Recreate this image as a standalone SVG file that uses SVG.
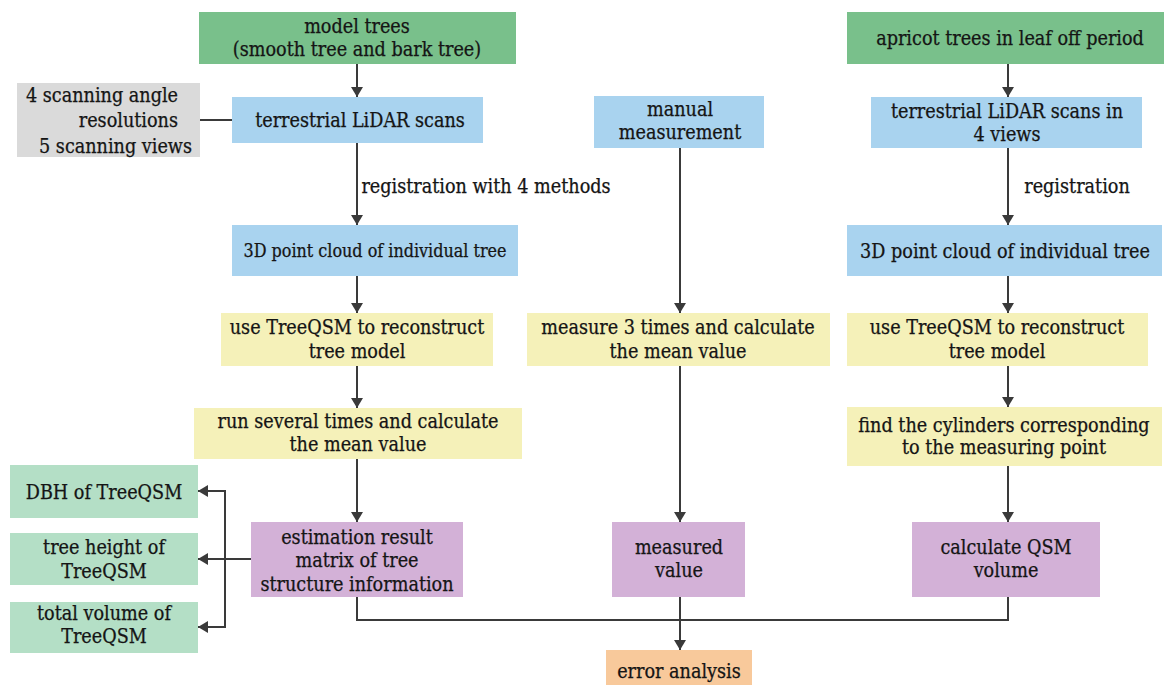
<svg xmlns="http://www.w3.org/2000/svg" width="1164" height="685" viewBox="0 0 1164 685">
<defs>
<marker id="ah" viewBox="0 0 10 12" refX="10" refY="6" markerWidth="10" markerHeight="12" markerUnits="userSpaceOnUse" orient="auto">
<path d="M0,0 L10,6 L0,12 Z" fill="#3a3a3a"/>
</marker>
</defs>
<style>
text{font-family:"DejaVu Serif Condensed","DejaVu Serif","Liberation Serif",serif;font-size:19.6px;fill:#151515;stroke:#151515;stroke-width:0.25;text-anchor:middle}
.sm{font-size:17.8px}
.g1{fill:#79c08b}
.bl{fill:#a9d3ef}
.ye{fill:#f5f1b9}
.pu{fill:#d3b1d7}
.g2{fill:#b4dfc6}
.gr{fill:#dadada}
.or{fill:#f8c99b}
.c{stroke:#3a3a3a;stroke-width:2;fill:none}
.a{marker-end:url(#ah)}
</style>
<rect width="1164" height="685" fill="#ffffff"/>
<g id="n_model"><rect class="g1" x="199" y="12" width="317" height="52"/><text x="357" y="33">model trees</text><text x="357" y="56">(smooth tree and bark tree)</text></g>
<g id="n_apricot"><rect class="g1" x="847" y="12" width="317" height="52"/><text x="1010" y="45">apricot trees in leaf off period</text></g>
<g id="n_gray"><rect class="gr" x="17" y="83" width="183" height="74"/><text x="178" y="102" style="text-anchor:end">4 scanning angle</text><text x="178" y="127" style="text-anchor:end">resolutions</text><text x="192" y="153" style="text-anchor:end">5 scanning views</text></g>
<g id="n_tls1"><rect class="bl" x="232" y="97" width="251" height="46"/><text x="360" y="127">terrestrial LiDAR scans</text></g>
<g id="n_manual"><rect class="bl" x="594" y="96" width="170" height="52"/><text x="680" y="116">manual</text><text x="680" y="139">measurement</text></g>
<g id="n_tls2"><rect class="bl" x="871" y="97" width="271" height="51"/><text x="1007" y="118">terrestrial LiDAR scans in</text><text x="1007" y="141">4 views</text></g>
<g id="n_pc1"><rect class="bl" x="232" y="225" width="286" height="51"/><text class="sm" x="375" y="257">3D point cloud of individual tree</text></g>
<g id="n_pc2"><rect class="bl" x="847" y="225" width="315" height="51"/><text x="1005" y="258">3D point cloud of individual tree</text></g>
<g id="n_qsm1"><rect class="ye" x="221" y="313" width="272" height="53"/><text x="357" y="334">use TreeQSM to reconstruct</text><text x="357" y="358">tree model</text></g>
<g id="n_meas3"><rect class="ye" x="527" y="313" width="303" height="53"/><text x="678" y="334">measure 3 times and calculate</text><text x="678" y="358">the mean value</text></g>
<g id="n_qsm2"><rect class="ye" x="847" y="313" width="301" height="53"/><text x="997" y="334">use TreeQSM to reconstruct</text><text x="997" y="358">tree model</text></g>
<g id="n_run"><rect class="ye" x="194" y="408" width="328" height="51"/><text x="358" y="428">run several times and calculate</text><text x="358" y="451">the mean value</text></g>
<g id="n_cyl"><rect class="ye" x="847" y="407" width="315" height="59"/><text x="1004" y="432">find the cylinders corresponding</text><text x="1004" y="454">to the measuring point</text></g>
<g id="n_est"><rect class="pu" x="251" y="522" width="212" height="75"/><text x="357" y="544">estimation result</text><text x="357" y="567">matrix of tree</text><text x="357" y="591">structure information</text></g>
<g id="n_measured"><rect class="pu" x="612" y="522" width="133" height="75"/><text x="679" y="554">measured</text><text x="679" y="577">value</text></g>
<g id="n_qsmvol"><rect class="pu" x="912" y="522" width="188" height="75"/><text x="1006" y="554">calculate QSM</text><text x="1006" y="577">volume</text></g>
<g id="n_dbh"><rect class="g2" x="10" y="465" width="188" height="53"/><text x="104" y="499">DBH of TreeQSM</text></g>
<g id="n_height"><rect class="g2" x="10" y="533" width="188" height="52"/><text x="104" y="554">tree height of</text><text x="104" y="578">TreeQSM</text></g>
<g id="n_vol"><rect class="g2" x="10" y="602" width="188" height="51"/><text x="104" y="620">total volume of</text><text x="104" y="643">TreeQSM</text></g>
<g id="n_err"><rect class="or" x="606" y="650" width="146" height="40"/><text x="679" y="678">error analysis</text></g>
<g id="connectors">
<line class="c a" x1="357" y1="64" x2="357" y2="97"/>
<line class="c" x1="200" y1="120" x2="232" y2="120"/>
<line class="c a" x1="357" y1="143" x2="357" y2="225"/>
<line class="c a" x1="357" y1="276" x2="357" y2="313"/>
<line class="c a" x1="357" y1="366" x2="357" y2="408"/>
<line class="c a" x1="357" y1="459" x2="357" y2="522"/>
<line class="c a" x1="680" y1="148" x2="680" y2="313"/>
<line class="c a" x1="680" y1="366" x2="680" y2="522"/>
<line class="c a" x1="680" y1="597" x2="680" y2="650"/>
<line class="c a" x1="1008" y1="64" x2="1008" y2="97"/>
<line class="c a" x1="1008" y1="148" x2="1008" y2="225"/>
<line class="c a" x1="1008" y1="276" x2="1008" y2="313"/>
<line class="c a" x1="1008" y1="366" x2="1008" y2="407"/>
<line class="c a" x1="1008" y1="466" x2="1008" y2="522"/>
<polyline class="c" points="357,597 357,620 1008,620 1008,597"/>
<line class="c a" x1="251" y1="559" x2="198" y2="559"/>
<polyline class="c a" points="225,559 225,491 198,491"/>
<polyline class="c a" points="225,559 225,627 198,627"/>
<text x="486" y="193">registration with 4 methods</text>
<text x="1077" y="193">registration</text>
</g>
</svg>
